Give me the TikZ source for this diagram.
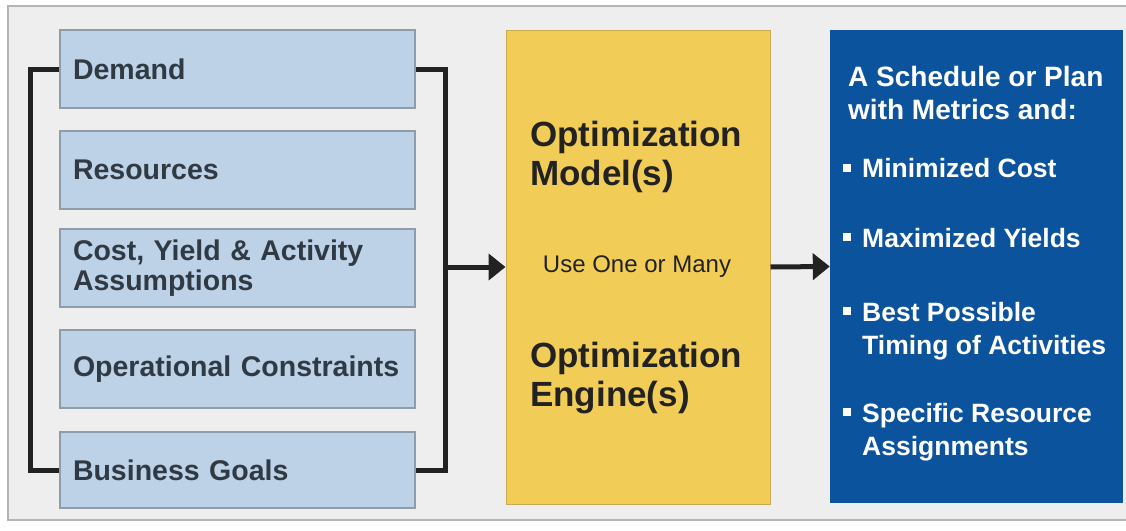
\documentclass[tikz,border=0pt]{standalone}
\usepackage{fontspec}
\setmainfont{Liberation Sans}
\usetikzlibrary{arrows.meta}
\definecolor{bgc}{HTML}{EEEEEE}
\definecolor{framec}{HTML}{B4B4B4}
\definecolor{inbox}{HTML}{BDD1E7}
\definecolor{inborder}{HTML}{8E9CAB}
\definecolor{intext}{HTML}{2F3A44}
\definecolor{ylw}{HTML}{F1CD57}
\definecolor{ylwborder}{HTML}{C8AA50}
\definecolor{blu}{HTML}{0C539E}
\definecolor{linec}{HTML}{222222}
\tikzset{
  inputbox/.style={draw=inborder, line width=1.5pt, fill=inbox, minimum width=355pt,
    minimum height=78pt, text width=329pt, inner xsep=13pt, inner ysep=0pt, align=left,
    text=intext, font={\bfseries\fontsize{28.5}{30}\selectfont\hyphenpenalty 10000\relax}},
  bracket/.style={draw=linec, line width=5pt},
  flow/.style={draw=linec, line width=5pt, -{Triangle[length=17pt,width=26pt]}},
  bigtxt/.style={anchor=north west, inner sep=0pt, align=left, text=linec,
    font=\bfseries\fontsize{35}{38.5}\selectfont},
  outtxt/.style={anchor=north west, inner sep=0pt, align=left, text=white,
    font=\bfseries\fontsize{28}{33}\selectfont},
  bultxt/.style={anchor=north west, inner sep=0pt, align=left, text=white,
    font=\bfseries\fontsize{26.5}{33}\selectfont}
}
\begin{document}
\begin{tikzpicture}[x=1pt,y=-1pt]
\useasboundingbox (0,0) rectangle (1126,530);
\fill[white] (0,0) rectangle (1126,530);
\draw[fill=bgc, draw=framec, line width=1.2pt] (8,6) rectangle (1140,520);

% input boxes
\node[inputbox] (demand) at (237.5,69) {Demand};
\node[inputbox] (resources) at (237.5,170) {Resources};
\node[inputbox] (cost) at (237.5,268) {Cost, Yield \& Activity\\Assumptions};
\node[inputbox] (oper) at (237.5,369) {Operational Constraints};
\node[inputbox, minimum height=76pt] (goals) at (237.5,470) {Business Goals};

% middle box
\node[draw=ylwborder, line width=1pt, fill=ylw, minimum width=264pt, minimum height=474pt] (mid) at (638,267) {};
\node[bigtxt] (models) at (530,121) {Optimization\\Model(s)};
\node[anchor=base, inner sep=0pt, text=linec, font=\fontsize{24}{26}\selectfont] (useone) at (637,272) {Use One or Many};
\node[bigtxt] (engines) at (530,342) {Optimization\\Engine(s)};

% output box
\node[fill=blu, minimum width=293pt, minimum height=473pt] (out) at (976.5,266.5) {};
\node[outtxt] (outtitle) at (848,66) {A Schedule or Plan\\with Metrics and:};
\node[bultxt] (b1) at (862,158) {Minimized Cost};
\node[bultxt] (b2) at (862,228) {Maximized Yields};
\node[bultxt] (b3) at (862,302) {Best Possible\\Timing of Activities};
\node[bultxt] (b4) at (862,403) {Specific Resource\\Assignments};
\foreach \yy in {168,237,311,412}{
  \fill[white] (843,\yy-4) rectangle (851,\yy+4);
}

% brackets and arrows
\coordinate (lb) at (30,0);
\coordinate (rb) at (445,0);
\draw[bracket] (demand.west) -| (lb |- goals.west) -- (goals.west);
\draw[bracket] (demand.east) -| (rb |- goals.east) -- (goals.east);
\coordinate (rbmid) at (rb |- mid.west);
\draw[flow] ([xshift=-2.5pt]rbmid) -- (mid.west);
\draw[flow] (mid.east) -- (out.west);
\end{tikzpicture}
\end{document}
